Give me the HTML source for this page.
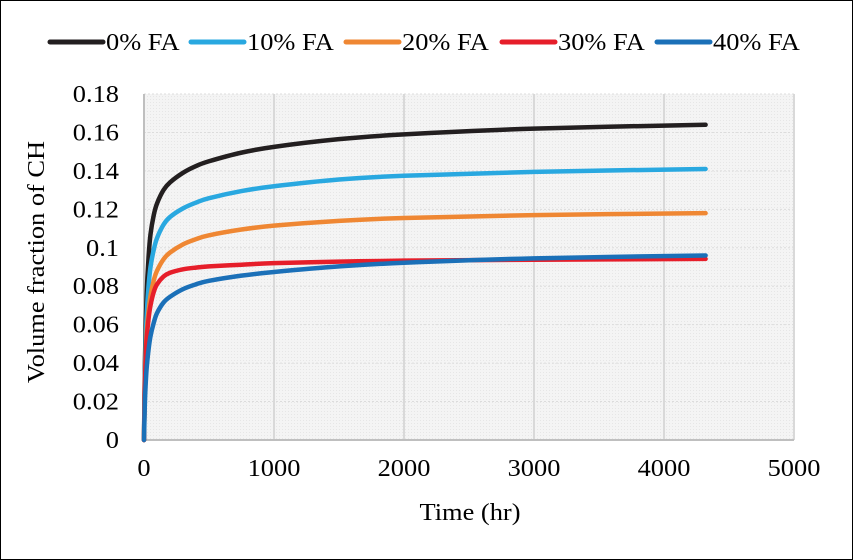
<!DOCTYPE html>
<html><head><meta charset="utf-8"><style>
body{margin:0;background:#fff}
svg{display:block;font-family:"Liberation Serif",serif}
</style></head><body>
<svg id="chart" width="853" height="560">
<rect x="0.5" y="0.5" width="852" height="559" fill="#fff" stroke="#000"/>
<defs><pattern id="dots" width="3" height="3" patternUnits="userSpaceOnUse"><rect width="3" height="3" fill="#f4f4f4"/><rect width="1" height="1" fill="#e6e6e6"/></pattern></defs>
<rect x="144" y="94" width="650" height="346" fill="url(#dots)"/>
<g id="grid"></g><g id="axes"></g><g id="series"></g><g id="legend"></g>
<text class="st" x="470" y="520" font-size="24" text-anchor="middle">Time (hr)</text>
<text class="st" transform="translate(44,262) rotate(-90)" font-size="24" text-anchor="middle">Volume fraction of CH</text>
</svg>
<script>
const times=[0,5,10,20,35,50,75,100,150,200,300,400,500,750,1000,1500,2000,3000,4320];
const fa0=[0,0.03,0.05,0.075,0.095,0.107,0.117,0.123,0.130,0.134,0.139,0.1425,0.145,0.1495,0.1525,0.1565,0.159,0.162,0.164];
const fa10=[0,0.025,0.043,0.064,0.08,0.09,0.099,0.105,0.112,0.116,0.1205,0.1235,0.1258,0.1295,0.132,0.1355,0.1375,0.1395,0.141];
const fa20=[0,0.022,0.038,0.055,0.067,0.075,0.083,0.088,0.094,0.0975,0.1018,0.1045,0.1065,0.1095,0.1115,0.114,0.1155,0.117,0.118];
const fa30=[0,0.022,0.036,0.052,0.063,0.07,0.077,0.081,0.085,0.087,0.0888,0.0897,0.0903,0.0912,0.092,0.0928,0.0933,0.0938,0.0942];
const fa40=[0,0.015,0.025,0.037,0.047,0.054,0.061,0.066,0.0715,0.0745,0.0785,0.081,0.0828,0.0855,0.0874,0.0903,0.0922,0.0945,0.096];
const seriesNames=["0% FA","10% FA","20% FA","30% FA","40% FA"];
const seriesColors=["#231f20","#29a8e0","#ef8733","#e61e2a","#1b70b8"];
const xTicks=[0,1000,2000,3000,4000,5000];
const yTicks=[0,0.02,0.04,0.06,0.08,0.1,0.12,0.14,0.16,0.18];
const NS="http://www.w3.org/2000/svg";
const X=v=>144+v/5000*650, Y=v=>440-v/0.18*346;
function mk(tag,attrs,parent,txt){const e=document.createElementNS(NS,tag);for(const k in attrs)e.setAttribute(k,attrs[k]);if(txt!==undefined)e.textContent=txt;parent.appendChild(e);return e;}
const grid=document.getElementById('grid'),axes=document.getElementById('axes'),ser=document.getElementById('series'),leg=document.getElementById('legend');
yTicks.forEach(t=>{
 if(t>0){const l=mk('line',{x1:144,x2:794,y1:Y(t),y2:Y(t),stroke:'#dcdcdc','stroke-dasharray':'2 2'},grid);
 
 }
 const tx=mk('text',{x:119,y:Y(t)+8,'font-size':24,'text-anchor':'end',class:'st'},axes,String(t));
 
 
});
xTicks.forEach(t=>{
 if(t>0){const l=mk('line',{x1:X(t),x2:X(t),y1:94,y2:440,stroke:'#d9d9d9','stroke-width':2},grid);
 
 }
 const tx=mk('text',{x:X(t),y:476,'font-size':24,'text-anchor':'middle',class:'st'},axes,String(t));
 
 
});
const ax=mk('path',{d:'M144 94V440H794',fill:'none',stroke:'#bfbfbf','stroke-width':2},axes);


const all=[fa0,fa10,fa20,fa30,fa40];
all.forEach((vals,i)=>{
 const pts=times.map((t,j)=>[X(t),Y(vals[j])]);
 let d='M'+pts[0][0]+' '+pts[0][1];
 for(let j=0;j<pts.length-1;j++){
  const p0=pts[Math.max(0,j-1)],p1=pts[j],p2=pts[j+1],p3=pts[Math.min(pts.length-1,j+2)];
  d+=' C'+(p1[0]+(p2[0]-p0[0])/6)+' '+(p1[1]+(p2[1]-p0[1])/6)+' '+(p2[0]-(p3[0]-p1[0])/6)+' '+(p2[1]-(p3[1]-p1[1])/6)+' '+p2[0]+' '+p2[1];
 }
 const p=mk('path',{d:d,fill:'none',stroke:seriesColors[i],'stroke-width':4.5,'stroke-linejoin':'round','stroke-linecap':'round'},ser);
 
 
});
const legX=[50,191,346,502,657];
seriesNames.forEach((n,i)=>{
 const g=mk('g',{},leg);
 
 
 mk('line',{x1:legX[i],x2:legX[i]+53,y1:42,y2:42,stroke:seriesColors[i],'stroke-width':5,'stroke-linecap':'round'},g);
 mk('text',{x:legX[i]+56,y:50,'font-size':24,class:'st'},g,n);
});
document.querySelectorAll('text.st').forEach(t=>{
 const w=t.getComputedTextLength();
 t.setAttribute('textLength',(w*1.1).toFixed(1));
 t.setAttribute('lengthAdjust','spacingAndGlyphs');
});
</script>
</body></html>
